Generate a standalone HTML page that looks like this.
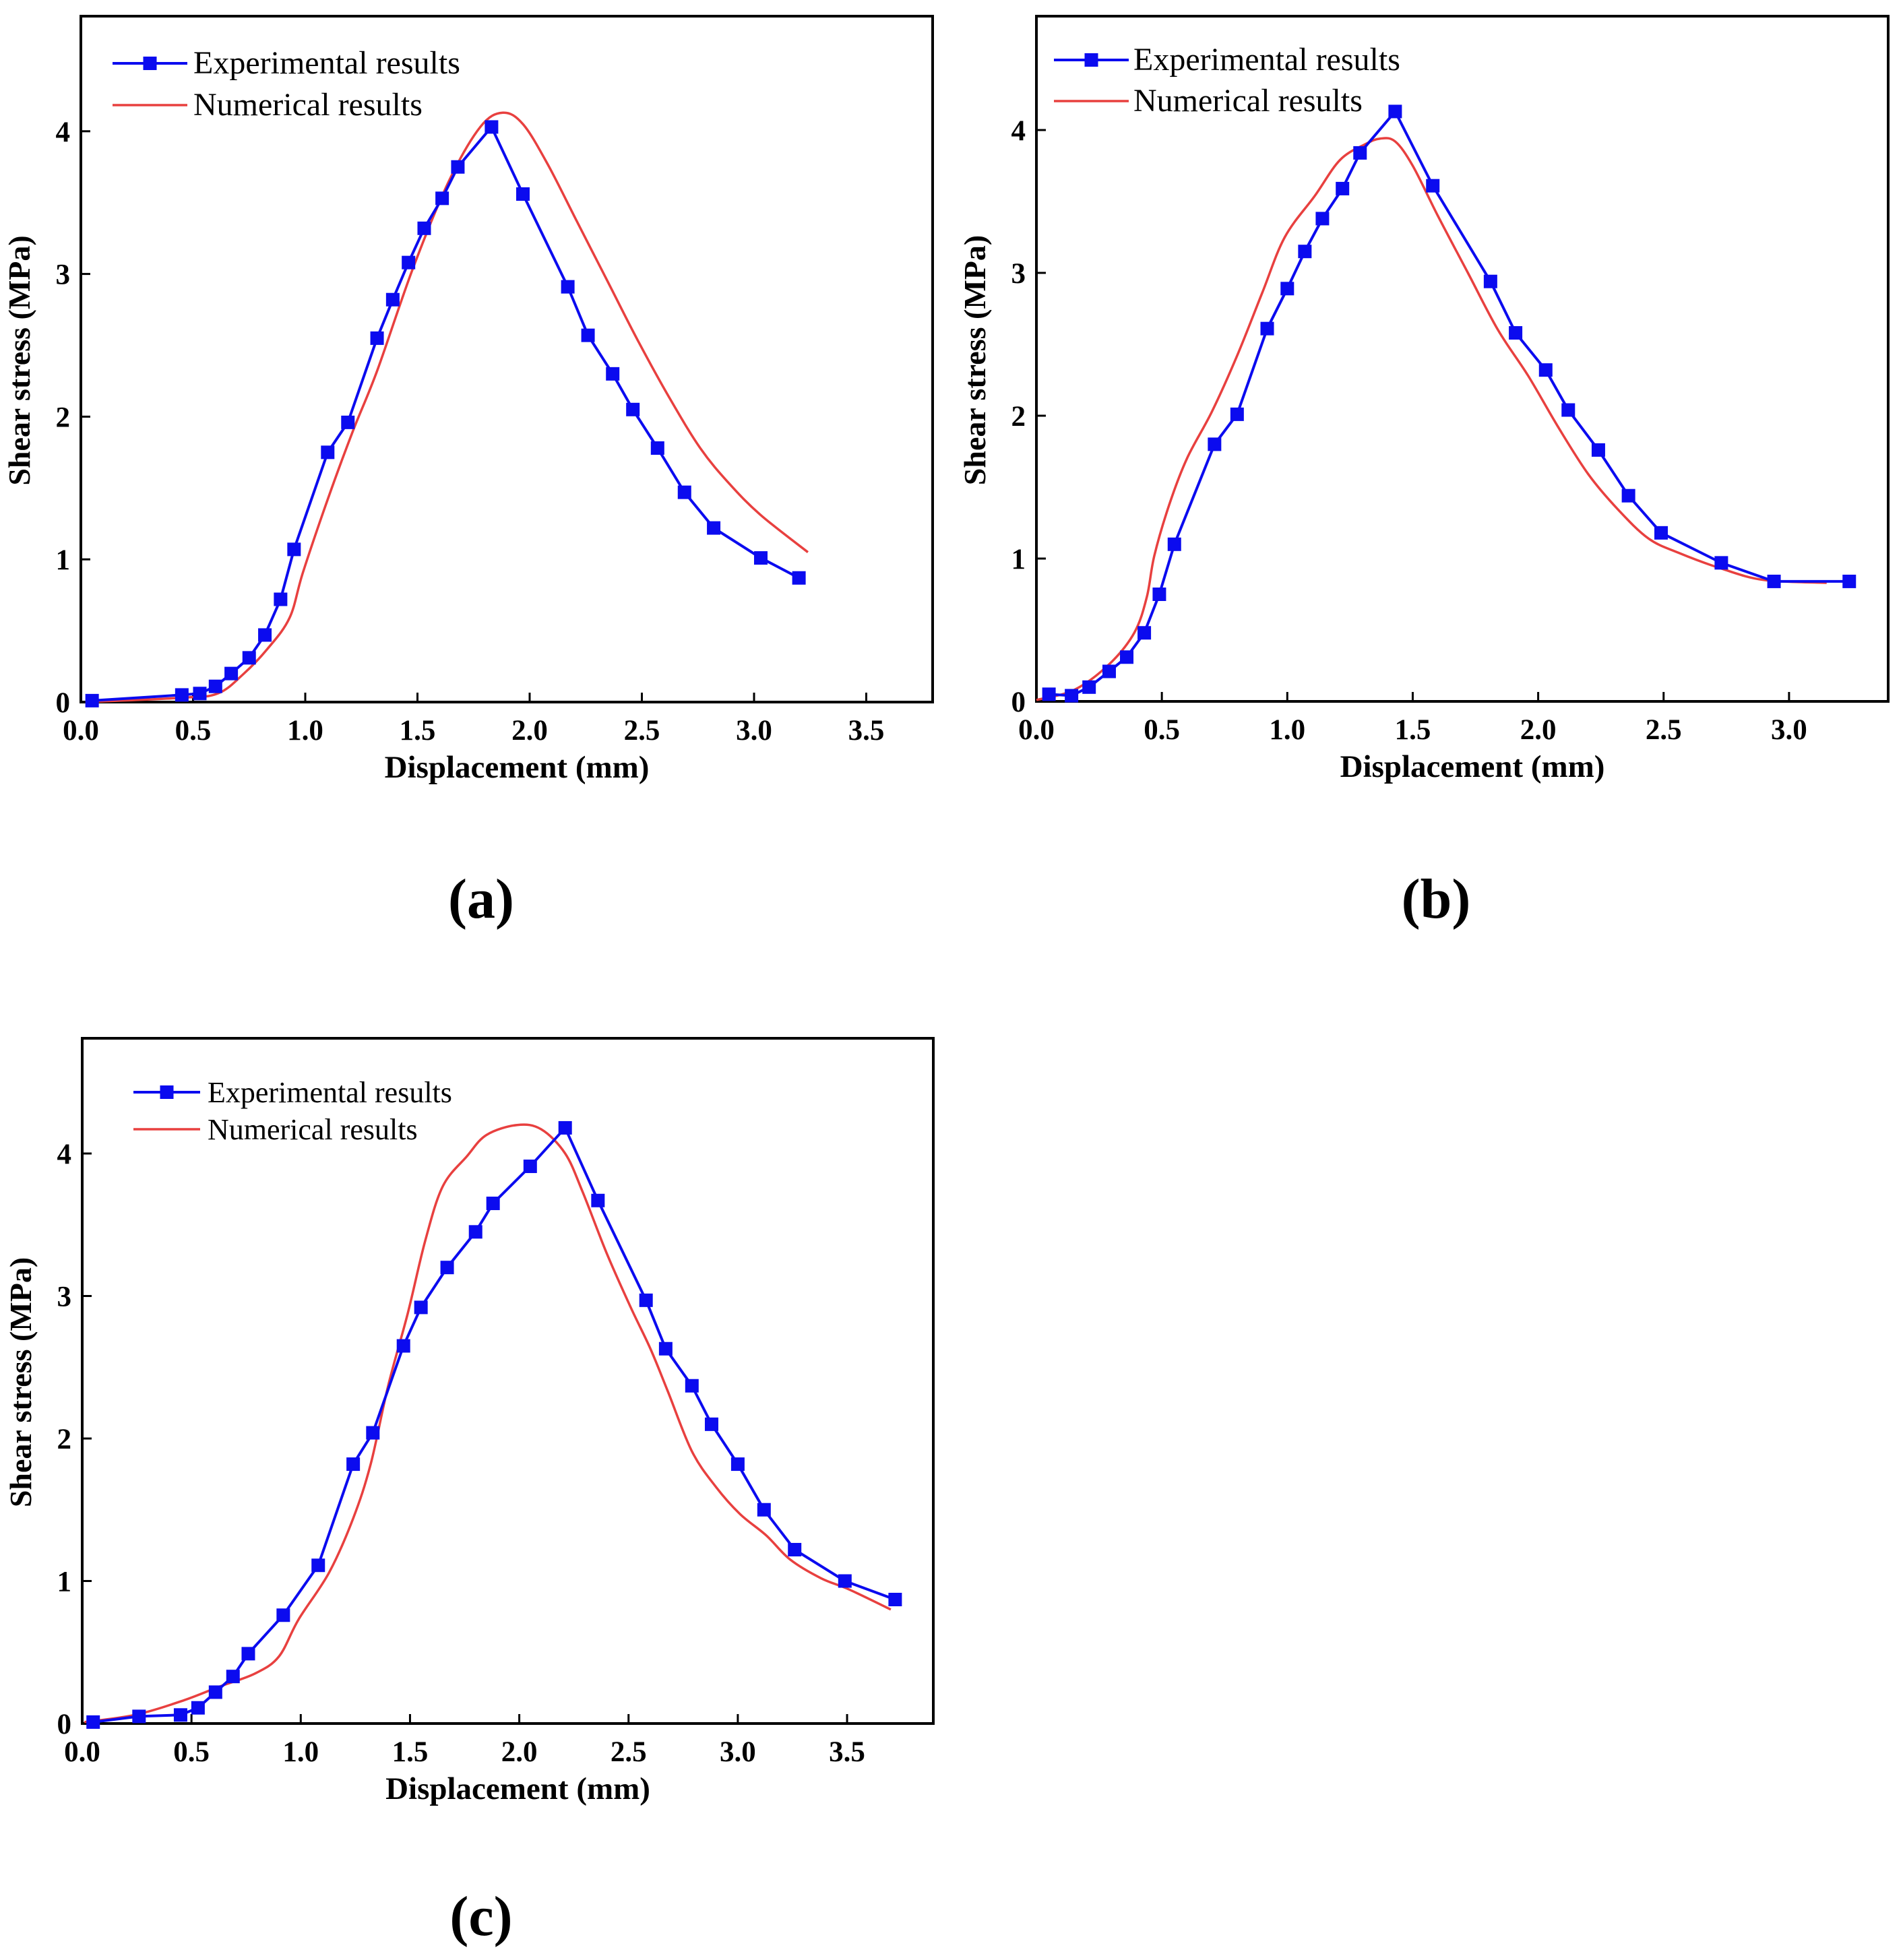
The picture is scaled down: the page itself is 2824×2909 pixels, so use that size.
<!DOCTYPE html>
<html><head><meta charset="utf-8"><style>
html,body{margin:0;padding:0;background:#fff;}
svg text{font-family:"Liberation Serif",serif;}
</style></head><body>
<svg id="fig" width="2824" height="2904" viewBox="0 0 2824 2904" xmlns="http://www.w3.org/2000/svg">
<rect width="2824" height="2904" fill="#fff"/>
</svg>
<script>
// Panel (a)
const aExpX=[0.05,0.45,0.53,0.6,0.67,0.75,0.82,0.89,0.95,1.1,1.19,1.32,1.39,1.46,1.53,1.61,1.68,1.83,1.97,2.17,2.26,2.37,2.46,2.57,2.69,2.82,3.03,3.2];
const aExpY=[0.01,0.05,0.06,0.11,0.2,0.31,0.47,0.72,1.07,1.75,1.96,2.55,2.82,3.08,3.32,3.53,3.75,4.03,3.56,2.91,2.57,2.3,2.05,1.78,1.47,1.22,1.01,0.87];
const aNumX=[0.02,0.45,0.61,0.72,0.83,0.93,0.99,1.1,1.21,1.32,1.48,1.64,1.78,1.88,1.97,2.08,2.21,2.35,2.48,2.62,2.76,2.89,3.03,3.24];
const aNumY=[0,0.03,0.06,0.19,0.37,0.59,0.91,1.42,1.89,2.32,3.04,3.65,4.03,4.13,4.05,3.77,3.37,2.94,2.54,2.14,1.78,1.53,1.31,1.05];
const aXTicks=["0.0","0.5","1.0","1.5","2.0","2.5","3.0","3.5"];
// Panel (b)
const bExpX=[0.05,0.14,0.21,0.29,0.36,0.43,0.49,0.55,0.71,0.8,0.92,1.0,1.07,1.14,1.22,1.29,1.43,1.58,1.81,1.91,2.03,2.12,2.24,2.36,2.49,2.73,2.94,3.24];
const bExpY=[0.05,0.04,0.1,0.21,0.31,0.48,0.75,1.1,1.8,2.01,2.61,2.89,3.15,3.38,3.59,3.84,4.13,3.61,2.94,2.58,2.32,2.04,1.76,1.44,1.18,0.97,0.84,0.84];
const bNumX=[0,0.15,0.29,0.39,0.44,0.47,0.53,0.6,0.7,0.8,0.9,0.99,1.11,1.21,1.31,1.37,1.43,1.5,1.6,1.72,1.84,1.96,2.08,2.2,2.32,2.44,2.56,2.73,2.9,3.15];
const bNumY=[0.01,0.08,0.26,0.48,0.73,1.02,1.38,1.7,2.03,2.42,2.86,3.25,3.54,3.79,3.9,3.94,3.92,3.75,3.4,3.0,2.6,2.28,1.92,1.59,1.34,1.14,1.04,0.93,0.85,0.83];
const bXTicks=["0.0","0.5","1.0","1.5","2.0","2.5","3.0"];
// Panel (c)
const cExpX=[0.05,0.26,0.45,0.53,0.61,0.69,0.76,0.92,1.08,1.24,1.33,1.47,1.55,1.67,1.8,1.88,2.05,2.21,2.36,2.58,2.67,2.79,2.88,3.0,3.12,3.26,3.49,3.72];
const cExpY=[0.01,0.05,0.06,0.11,0.22,0.33,0.49,0.76,1.11,1.82,2.04,2.65,2.92,3.2,3.45,3.65,3.91,4.18,3.67,2.97,2.63,2.37,2.1,1.82,1.5,1.22,1.0,0.87];
const cNumX=[0.01,0.24,0.46,0.63,0.79,0.9,0.99,1.13,1.24,1.32,1.4,1.49,1.57,1.65,1.76,1.85,1.99,2.1,2.21,2.29,2.4,2.51,2.6,2.68,2.79,2.9,3.01,3.13,3.24,3.38,3.51,3.7];
const cNumY=[0.01,0.06,0.16,0.26,0.35,0.47,0.73,1.06,1.44,1.82,2.37,2.88,3.39,3.77,3.98,4.13,4.2,4.17,4.0,3.73,3.3,2.92,2.63,2.33,1.91,1.66,1.47,1.32,1.15,1.02,0.94,0.8];
const cXTicks=["0.0","0.5","1.0","1.5","2.0","2.5","3.0","3.5"];
const yTicks=["0","1","2","3","4"];

const NS="http://www.w3.org/2000/svg";
const svg=document.getElementById('fig');
function mk(tag,attrs,parent){const e=document.createElementNS(NS,tag);for(const k in attrs)e.setAttribute(k,attrs[k]);(parent||svg).appendChild(e);return e;}
function smooth(pts){let d=`M${pts[0][0]},${pts[0][1]}`;for(let i=0;i<pts.length-1;i++){const p0=pts[Math.max(i-1,0)],p1=pts[i],p2=pts[i+1],p3=pts[Math.min(i+2,pts.length-1)];const c1=[p1[0]+(p2[0]-p0[0])/6,p1[1]+(p2[1]-p0[1])/6],c2=[p2[0]-(p3[0]-p1[0])/6,p2[1]-(p3[1]-p1[1])/6];d+=` C${c1[0]},${c1[1]} ${c2[0]},${c2[1]} ${p2[0]},${p2[1]}`;}return d;}

function panel(id,L,T,R,B,pxmm,pxmpa,xTicks,ex,ey,nx,ny,leg,label,legFs){
  const g=mk('g',{});
  
  
  const X=v=>L+v*pxmm, Y=v=>B-v*pxmpa;
  const fr=mk('rect',{x:L,y:T,width:R-L,height:B-T,fill:'none',stroke:'#000','stroke-width':4},g);
  
  
  xTicks.forEach(t=>{const v=parseFloat(t);const x=X(v);
    const tk=mk('line',{x1:x,y1:B,x2:x,y2:B-14,stroke:'#000','stroke-width':3},g);
    
    
    const tx=mk('text',{x:x,y:B+56,'font-size':43,'font-weight':'bold','text-anchor':'middle'},g);
    
    
    tx.textContent=t;});
  yTicks.forEach(t=>{const y=Y(parseFloat(t));
    const tk=mk('line',{x1:L,y1:y,x2:L+14,y2:y,stroke:'#000','stroke-width':3},g);
    
    
    const tx=mk('text',{x:L-16,y:y+15,'font-size':43,'font-weight':'bold','text-anchor':'end'},g);
    
    
    tx.textContent=t;});
  const xt=mk('text',{x:(L+R)/2+15,y:B+112,'font-size':47,'font-weight':'bold','text-anchor':'middle'},g);
  
  
  xt.textContent='Displacement (mm)';
  const yc=(T+B)/2+2, yx=L-76;
  const yt=mk('text',{x:yx,y:yc,'font-size':46,'font-weight':'bold','text-anchor':'middle',transform:`rotate(-90 ${yx} ${yc})`},g);
  
  
  yt.textContent='Shear stress (MPa)';
  const npts=nx.map((v,i)=>[X(v),Y(ny[i])]);
  const rl=mk('path',{d:smooth(npts),fill:'none',stroke:'#e8403f','stroke-width':3.5},g);
  
  
  const bl=mk('polyline',{points:ex.map((v,i)=>X(v)+','+Y(ey[i])).join(' '),fill:'none',stroke:'#0b0bef','stroke-width':4},g);
  
  
  ex.forEach((v,i)=>{const m=mk('rect',{x:X(v)-10,y:Y(ey[i])-10,width:20,height:20,fill:'#0b0bef'},g);
    
    });
  const [lx1,lx2,ly1,ly2,tx]=leg;
  const l1=mk('line',{x1:lx1,y1:ly1,x2:lx2,y2:ly1,stroke:'#0b0bef','stroke-width':4},g);
  
  
  const lm=mk('rect',{x:(lx1+lx2)/2-10,y:ly1-10,width:20,height:20,fill:'#0b0bef'},g);
  
  
  const t1=mk('text',{x:tx,y:ly1+15,'font-size':legFs},g);
  
  
  t1.textContent='Experimental results';
  const l2=mk('line',{x1:lx1,y1:ly2,x2:lx2,y2:ly2,stroke:'#e8403f','stroke-width':3.5},g);
  
  
  const t2=mk('text',{x:tx,y:ly2+15,'font-size':legFs},g);
  
  
  t2.textContent='Numerical results';
  const pl=mk('text',{x:label[0],y:label[1],'font-size':84,'font-weight':'bold','text-anchor':'middle'},g);
  
  
  pl.textContent='('+id+')';
}
panel('a',120,24,1384,1042,333,211.8,aXTicks,aExpX,aExpY,aNumX,aNumY,[167,278,94,156,287],[714,1362],48);
panel('b',1538,24,2802,1041,372.3,212,bXTicks,bExpX,bExpY,bNumX,bNumY,[1564,1675,89,150,1682],[2131,1362],48);
panel('c',122,1541,1385,2558,324.3,211.5,cXTicks,cExpX,cExpY,cNumX,cNumY,[198,297,1621,1676,308],[714,2872],44);
</script>
</body></html>
